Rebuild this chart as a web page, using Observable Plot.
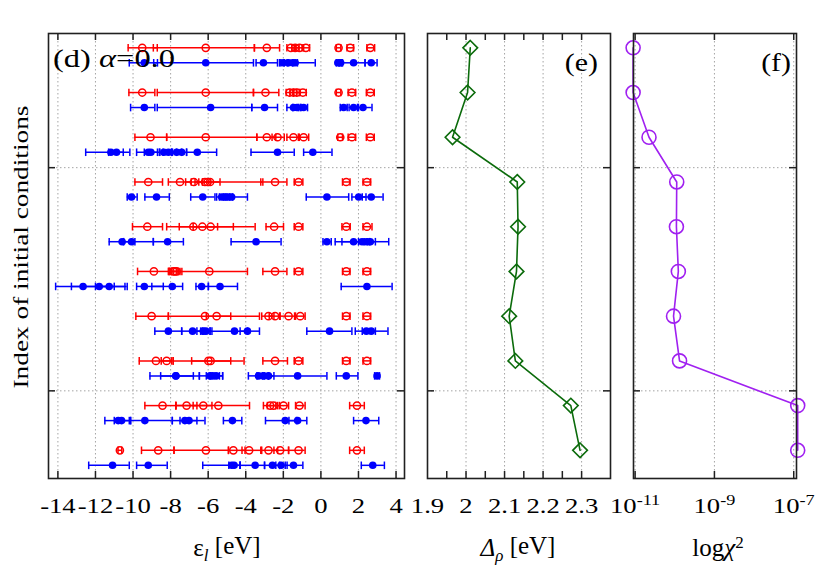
<!DOCTYPE html>
<html>
<head>
<meta charset="utf-8">
<script src="https://cdn.jsdelivr.net/npm/d3@7"></script>
<script src="https://cdn.jsdelivr.net/npm/@observablehq/plot@0.6"></script>
<style>
  body { margin: 0; background: #fff; }
  #wrap { position: relative; width: 822px; height: 576px; overflow: hidden; background: #fff; }
  #wrap svg { position: absolute; top: 0; overflow: visible; }
</style>
</head>
<body>
<div id="wrap"></div>
<script>
// ---------------- data ----------------
// rows: index of initial conditions, top (0) to bottom (9)
const rows = [0, 1, 2, 3, 4, 5, 6, 7, 8, 9];
const yDomain = [-0.32, 9.63];
const yTicks = [2.68, 7.67];

// panel (d): levels eps_l [eV] as [value, errLow, errHigh]
const red0 = [[-9.51,-10.26,-8.71],[-6.13,-8.92,-3.54],[-2.88,-3.54,-2.20],[-1.60,-1.81,-1.40],[-1.37,-1.55,-1.16],[-1.14,-1.35,-0.92],[-0.80,-1.00,-0.60],[0.94,0.82,1.06],[1.56,1.39,1.74],[2.63,2.45,2.86]];
const red1 = [[-9.51,-10.22,-8.84],[-6.13,-8.71,-3.59],[-2.95,-3.59,-2.24],[-1.67,-1.85,-1.46],[-1.46,-1.65,-1.28],[-1.28,-1.46,-1.10],[-0.96,-1.15,-0.78],[0.94,0.82,1.06],[1.65,1.45,1.85],[2.63,2.42,2.84]];
const red2 = [[-9.07,-9.90,-8.21],[-6.13,-8.21,-3.41],[-2.88,-3.41,-2.40],[-2.31,-2.60,-1.95],[-1.46,-1.81,-1.15],[-0.92,-1.20,-0.65],[1.03,0.90,1.15],[1.65,1.45,1.85],[2.63,2.42,2.84]];
const red3 = [[-9.19,-9.90,-8.43],[-7.50,-8.12,-6.90],[-6.76,-7.20,-6.30],[-6.17,-6.50,-5.90],[-6.03,-6.70,-5.37],[-5.90,-6.30,-3.09],[-2.44,-3.20,-1.81],[-1.19,-1.42,-0.96],[1.35,1.15,1.55],[2.45,2.24,2.65]];
const red4 = [[-9.24,-10.03,-8.43],[-6.79,-8.21,-5.50],[-6.31,-7.54,-4.66],[-5.87,-6.80,-3.50],[-2.49,-2.92,-1.99],[-1.19,-1.42,-0.96],[1.35,1.12,1.56],[2.45,2.24,2.72]];
const red5 = [[-8.89,-9.76,-8.07],[-7.86,-8.12,-7.60],[-7.77,-8.00,-7.50],[-7.68,-7.95,-7.40],[-5.94,-8.07,-3.91],[-2.44,-3.09,-1.81],[-1.19,-1.42,-0.96],[1.35,1.15,1.55],[2.45,2.24,2.65]];
const red6 = [[-9.01,-9.85,-8.12],[-6.17,-8.12,-4.80],[-5.55,-6.10,-3.27],[-2.79,-3.15,-2.50],[-2.44,-2.75,-2.17],[-1.72,-2.20,-1.35],[-1.10,-1.40,-0.84],[1.35,1.15,1.55],[2.45,2.24,2.65]];
const red7 = [[-8.78,-9.67,-7.95],[-8.21,-8.50,-7.86],[-5.99,-6.88,-4.80],[-5.87,-7.86,-4.09],[-2.44,-3.09,-1.78],[-1.19,-1.42,-0.96],[1.35,1.15,1.55],[2.45,2.24,2.65]];
const red8 = [[-8.43,-9.37,-7.72],[-7.15,-7.72,-6.60],[-6.26,-6.80,-5.80],[-5.46,-7.72,-3.80],[-2.70,-3.06,-2.40],[-2.52,-2.85,-2.20],[-1.99,-2.30,-1.72],[-1.14,-1.35,-0.84],[1.92,1.53,2.31]];
const red9 = [[-10.70,-10.80,-10.60],[-8.66,-9.55,-7.82],[-6.12,-7.82,-4.92],[-4.66,-4.92,-4.04],[-3.82,-4.20,-3.15],[-2.79,-3.20,-2.30],[-2.17,-2.50,-1.72],[-1.19,-1.72,-0.84],[1.92,1.53,2.31]];

const blue0 = [[-9.40,-10.20,-8.70],[-6.13,-8.90,-3.59],[-3.06,-3.45,-2.31],[-2.00,-2.20,-1.80],[-1.72,-1.95,-1.50],[-1.50,-1.75,-1.25],[-1.37,-2.13,-0.30],[0.90,0.82,1.00],[1.05,0.95,1.15],[1.74,1.10,2.35],[2.68,2.35,2.99]];
const blue1 = [[-9.40,-10.13,-8.84],[-5.87,-8.71,-3.68],[-3.00,-3.68,-2.31],[-1.46,-1.81,-1.20],[-1.28,-1.50,-1.05],[-0.92,-1.10,-0.71],[1.21,1.03,1.40],[1.74,1.50,1.95],[2.24,2.00,2.72]];
const blue2 = [[-11.18,-12.52,-10.17],[-10.88,-11.30,-10.52],[-9.19,-9.81,-8.57],[-9.05,-9.40,-8.70],[-8.36,-8.60,-7.95],[-8.12,-8.40,-7.90],[-7.68,-7.95,-7.41],[-7.41,-7.68,-7.15],[-6.58,-7.15,-5.55],[-2.31,-3.72,-1.42],[-0.43,-0.92,0.59]];
const blue3 = [[-10.08,-10.31,-9.78],[-8.75,-9.37,-8.07],[-6.29,-6.93,-5.64],[-5.28,-5.55,-5.00],[-5.10,-5.40,-4.85],[-4.92,-5.20,-4.70],[-4.75,-5.10,-3.91],[0.32,-0.78,1.48],[2.01,1.65,2.40],[2.68,2.20,3.31]];
const blue4 = [[-10.58,-11.27,-9.90],[-10.08,-10.50,-8.92],[-8.16,-8.92,-7.32],[-3.45,-4.78,-2.12],[0.32,0.11,0.55],[1.74,0.76,2.50],[2.19,1.12,2.60],[2.42,2.00,2.90],[2.63,2.30,3.61]];
const blue5 = [[-12.66,-14.12,-11.00],[-11.80,-13.28,-10.43],[-11.27,-12.00,-10.31],[-9.40,-9.81,-8.39],[-7.91,-9.00,-7.36],[-6.35,-6.65,-5.99],[-5.37,-5.99,-4.44],[2.45,1.08,3.79]];
const blue6 = [[-8.12,-8.84,-7.41],[-6.83,-7.41,-6.30],[-6.26,-6.60,-5.90],[-6.12,-6.40,-5.80],[-4.60,-5.90,-3.90],[-3.91,-4.30,-3.27],[0.46,-0.75,1.65],[2.42,1.83,2.90],[2.68,2.20,3.57]];
const blue7 = [[-7.72,-9.10,-6.47],[-7.72,-8.53,-6.79],[-5.90,-6.47,-5.23],[-5.76,-6.10,-5.40],[-5.58,-5.90,-5.23],[-3.32,-3.86,-3.00],[-3.06,-3.40,-2.79],[-2.79,-3.10,-2.50],[-1.24,-2.79,0.32],[1.35,0.82,1.97],[2.99,2.86,3.12]];
const blue8 = [[-10.79,-11.50,-10.13],[-10.61,-11.00,-10.20],[-9.37,-10.13,-7.91],[-7.24,-7.91,-6.60],[-7.02,-7.50,-6.17],[-4.71,-5.19,-4.21],[-1.90,-2.95,-1.30],[-1.24,-1.70,-0.75],[2.40,1.74,3.08]];
const blue9 = [[-11.09,-12.36,-10.20],[-9.19,-9.81,-8.18],[-4.75,-6.29,-4.30],[-4.62,-4.90,-4.30],[-3.50,-4.30,-3.00],[-2.58,-3.00,-2.20],[-2.12,-2.40,-1.80],[-1.46,-1.90,-0.96],[2.76,2.15,3.38]];

const redRows = [red0, red1, red2, red3, red4, red5, red6, red7, red8, red9];
const blueRows = [blue0, blue1, blue2, blue3, blue4, blue5, blue6, blue7, blue8, blue9];

// panel (e): Delta_rho [eV]
const deltaRho = [2.011, 2.004, 1.965, 2.133, 2.135, 2.131, 2.112, 2.128, 2.272, 2.296];
// panel (f): chi^2
const chi2 = [8.9e-12, 8.9e-12, 2.24e-11, 1.12e-10, 1.10e-10, 1.23e-10, 9.3e-11, 1.32e-10, 1.26e-7, 1.26e-7];

// ticks
const epsTicks = [-14, -12, -10, -8, -6, -4, -2, 0, 2, 4];
const epsDomain = [-14.5, 4.45];
const deltaLabels = [1.9, 2, 2.1, 2.2, 2.3];
const deltaGrid = [2, 2.1, 2.2, 2.3];
const deltaMinor = [1.95, 2, 2.05, 2.1, 2.15, 2.2, 2.25, 2.3];
const deltaDomain = [1.9, 2.375];
const chiTicks = [1e-11, 1e-9, 1e-7];
const chiDomain = [9.1e-12, 1.175e-7];

// ---------------- style ----------------
const FONT = '"Liberation Serif", "Times New Roman", serif';
const RED = "#ff0000", BLUE = "#0000ff", GREEN = "#0b6b0b", PURPLE = "#a020f0";
const GRID = "#9a9a9a", INK = "#202020";
const H = 576, MT = 33, MB = 98, FH = H - MT - MB, TL = 7;
const BLUE_DY = 15;
const TICK_FS = 20.5, TICK_STRETCH = 1.3;

const capSymbol = {
  draw(ctx, size) {
    const h = Math.sqrt(size / Math.PI);
    ctx.moveTo(0, -h);
    ctx.lineTo(0, h);
  }
};

const toRecords = (rs) => rs.flatMap((pts, row) => pts.map(([x, lo, hi]) => ({row, x, lo, hi})));
const redData = toRecords(redRows);
const blueData = toRecords(blueRows);
const eData = rows.map((row, i) => ({row, v: deltaRho[i]}));
const fData = rows.map((row, i) => ({row, v: chi2[i]}));

function frameMarks(xTickVals, FW) {
  return [
    Plot.tickX(xTickVals, {x: d => d, insetTop: FH - TL, stroke: INK, strokeWidth: 1.5}),
    Plot.tickX(xTickVals, {x: d => d, insetBottom: FH - TL, stroke: INK, strokeWidth: 1.5}),
    Plot.tickY(yTicks, {y: d => d, insetRight: FW - TL, stroke: INK, strokeWidth: 1.5}),
    Plot.tickY(yTicks, {y: d => d, insetLeft: FW - TL, stroke: INK, strokeWidth: 1.5}),
    Plot.frame({stroke: INK, strokeWidth: 1.6})
  ];
}
const gridY = Plot.ruleY(yTicks, {y: d => d, stroke: GRID, strokeWidth: 0.9, strokeDasharray: "1.5,2.5"});
const baseStyle = {fontFamily: FONT, fontSize: TICK_FS + "px", background: "transparent", overflow: "visible", color: "#000"};

// horizontal stretch of a text element about its anchor point (wide serif look)
function stretch(el, s) {
  const x = +el.getAttribute("x") || 0;
  const y = +el.getAttribute("y") || 0;
  const tr = el.getAttribute("transform") || "";
  el.setAttribute("transform", `${tr} translate(${x},${y}) scale(${s},1) translate(${-x},${-y})`);
}

const wrap = document.getElementById("wrap");

// ---------------- panel (d) ----------------
const D = {left: 0, width: 420, ml: 48, mr: 16};
const FWd = D.width - D.ml - D.mr;
const pd = Plot.plot({
  width: D.width, height: H, marginLeft: D.ml, marginRight: D.mr, marginTop: MT, marginBottom: MB,
  style: baseStyle,
  x: {domain: epsDomain, label: null},
  y: {domain: yDomain, reverse: true, axis: null},
  marks: [
    Plot.ruleX(epsTicks, {x: d => d, stroke: GRID, strokeWidth: 0.9, strokeDasharray: "1.5,2.5"}),
    gridY,
    Plot.ruleY(redData, {y: "row", x1: "lo", x2: "hi", stroke: RED, strokeWidth: 1.5}),
    Plot.dot(redData, {x: "lo", y: "row", symbol: capSymbol, r: 3.8, stroke: RED, fill: "none", strokeWidth: 1.5}),
    Plot.dot(redData, {x: "hi", y: "row", symbol: capSymbol, r: 3.8, stroke: RED, fill: "none", strokeWidth: 1.5}),
    Plot.dot(redData, {x: "x", y: "row", r: 3.6, stroke: RED, fill: "none", strokeWidth: 1.5}),
    Plot.ruleY(blueData, {y: "row", x1: "lo", x2: "hi", dy: BLUE_DY, stroke: BLUE, strokeWidth: 1.5}),
    Plot.dot(blueData, {x: "lo", y: "row", dy: BLUE_DY, symbol: capSymbol, r: 3.8, stroke: BLUE, fill: "none", strokeWidth: 1.5}),
    Plot.dot(blueData, {x: "hi", y: "row", dy: BLUE_DY, symbol: capSymbol, r: 3.8, stroke: BLUE, fill: "none", strokeWidth: 1.5}),
    Plot.dot(blueData, {x: "x", y: "row", dy: BLUE_DY, r: 3.8, fill: BLUE, stroke: "none"}),
    ...frameMarks(epsTicks, FWd),
    Plot.axisX(epsTicks, {tickSize: 0, tickPadding: 20, tickFormat: d => String(d), label: null, fontSize: TICK_FS})
  ]
});
pd.style.left = D.left + "px";
wrap.appendChild(pd);

// ---------------- panel (e) ----------------
const E = {left: 410, width: 212, ml: 17, mr: 12};
const FWe = E.width - E.ml - E.mr;
const pe = Plot.plot({
  width: E.width, height: H, marginLeft: E.ml, marginRight: E.mr, marginTop: MT, marginBottom: MB,
  style: baseStyle,
  x: {domain: deltaDomain, label: null},
  y: {domain: yDomain, reverse: true, axis: null},
  marks: [
    Plot.ruleX(deltaGrid, {x: d => d, stroke: GRID, strokeWidth: 0.9, strokeDasharray: "1.5,2.5"}),
    gridY,
    Plot.line(eData, {x: "v", y: "row", stroke: GREEN, strokeWidth: 1.6}),
    Plot.dot(eData, {x: "v", y: "row", symbol: "diamond2", r: 6.6, stroke: GREEN, fill: "none", strokeWidth: 1.6}),
    ...frameMarks(deltaMinor, FWe),
    Plot.axisX(deltaLabels, {tickSize: 0, tickPadding: 20, tickFormat: d => String(d), label: null, fontSize: TICK_FS})
  ]
});
pe.style.left = E.left + "px";
wrap.appendChild(pe);

// ---------------- panel (f) ----------------
const F = {left: 620, width: 202, ml: 13, mr: 26};
const FWf = F.width - F.ml - F.mr;
const pf = Plot.plot({
  width: F.width, height: H, marginLeft: F.ml, marginRight: F.mr, marginTop: MT, marginBottom: MB,
  style: baseStyle,
  x: {type: "log", domain: chiDomain, label: null},
  y: {domain: yDomain, reverse: true, axis: null},
  marks: [
    Plot.ruleX(chiTicks, {x: d => d, stroke: GRID, strokeWidth: 0.9, strokeDasharray: "1.5,2.5"}),
    gridY,
    Plot.line(fData, {x: "v", y: "row", stroke: PURPLE, strokeWidth: 1.6}),
    Plot.dot(fData, {x: "v", y: "row", r: 7, stroke: PURPLE, fill: "none", strokeWidth: 1.6}),
    ...frameMarks(chiTicks, FWf),
    Plot.axisX(chiTicks, {tickSize: 0, tickPadding: 20, tickFormat: d => "10^" + Math.round(Math.log10(d)), label: null, fontSize: TICK_FS})
  ]
});
pf.style.left = F.left + "px";
wrap.appendChild(pf);

// superscript exponents on the log axis labels
d3.select(pf).selectAll("text").each(function () {
  const t = this.textContent;
  if (t.includes("^")) {
    const [base, ex] = t.split("^");
    const sel = d3.select(this);
    sel.text(null);
    sel.append("tspan").text(base);
    sel.append("tspan").attr("dy", "-0.55em").attr("font-size", "14px").text(ex);
  }
});
[pd, pe, pf].forEach(svg => d3.select(svg).selectAll("text").each(function () { stretch(this, TICK_STRETCH); }));

// ---------------- titles / labels ----------------
const ov = d3.create("svg")
  .attr("width", 822).attr("height", 576)
  .style("left", "0px").style("pointer-events", "none")
  .style("font-family", FONT).style("fill", "#000");

ov.append("text")
  .attr("transform", "translate(28,247) rotate(-90)")
  .attr("text-anchor", "middle").attr("font-size", 22)
  .attr("textLength", 283).attr("lengthAdjust", "spacingAndGlyphs")
  .text("Index of initial conditions");

function title(x, y, parts) {
  const t = ov.append("text").attr("x", x).attr("y", y).attr("text-anchor", "middle").attr("font-size", 25);
  parts.forEach(p => {
    const s = t.append("tspan").text(p.t);
    if (p.i) s.attr("font-style", "italic");
    if (p.dy) s.attr("dy", p.dy);
    if (p.fs) s.attr("font-size", p.fs);
  });
  return t;
}
title(227, 556, [{t: "ε", i: false}, {t: "l", i: true, dy: "0.3em", fs: 17}, {t: " [eV]", dy: "-0.3em"}]);
title(518, 556, [{t: "Δ", i: true}, {t: "ρ", i: true, dy: "0.3em", fs: 17}, {t: " [eV]", dy: "-0.3em"}]);
title(718, 556, [{t: "log"}, {t: "χ", i: true}, {t: "2", dy: "-0.45em", fs: 17}]);

const lab = (x, y, anchor, s, parts) => {
  const t = ov.append("text").attr("x", x).attr("y", y).attr("text-anchor", anchor).attr("font-size", 26);
  parts.forEach(p => { const sp = t.append("tspan").text(p.t); if (p.i) sp.attr("font-style", "italic"); });
  stretch(t.node(), s);
};
lab(53, 67, "start", 1.25, [{t: "(d) "}, {t: "α", i: true}, {t: "=0.0"}]);
lab(598, 71, "end", 1.15, [{t: "(e)"}]);
lab(791, 71, "end", 1.15, [{t: "(f)"}]);

wrap.appendChild(ov.node());
</script>
</body>
</html>
